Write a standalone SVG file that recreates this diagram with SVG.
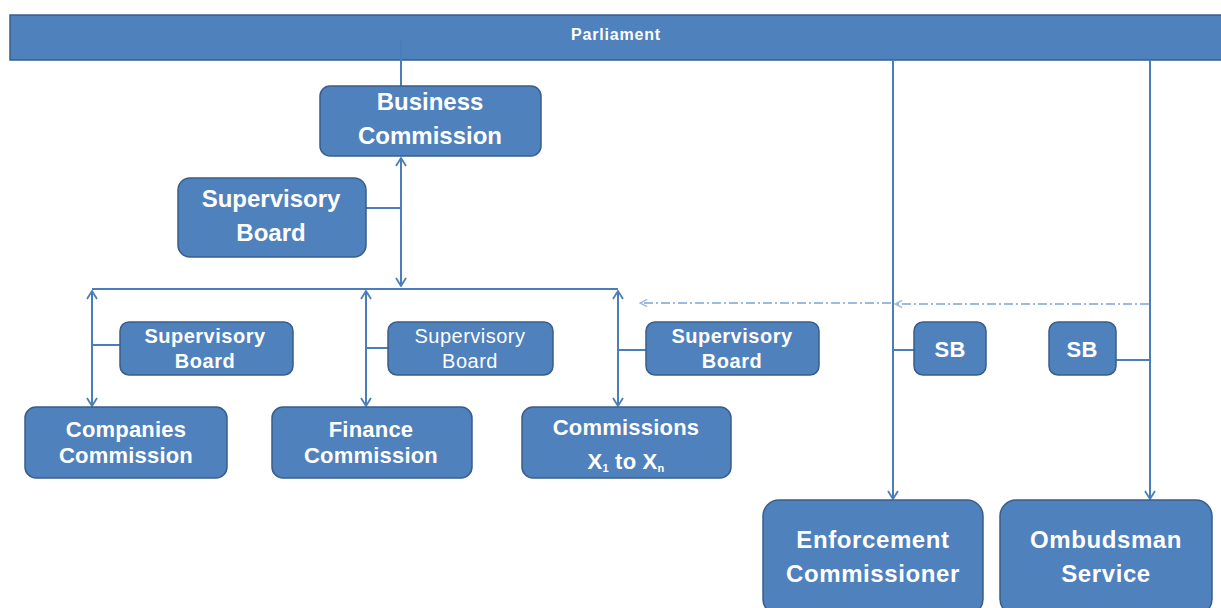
<svg xmlns="http://www.w3.org/2000/svg" width="1221" height="608" viewBox="0 0 1221 608">
<defs>
<style>
.box{fill:#4f81bd;stroke:#385d8a;stroke-width:1.5}
.t{font-family:"Liberation Sans",Arial,sans-serif;font-weight:bold;fill:#ffffff;text-anchor:middle}
.big{font-size:24px}
.med{font-size:22px;letter-spacing:0.2px}
.sm{font-size:20px;letter-spacing:0.5px}
.c{fill:none;stroke:#4a7ebb;stroke-width:2}
.d{fill:none;stroke:#9cb9e0;stroke-width:2;stroke-dasharray:9 3 2 3}
</style>
<marker id="ah" viewBox="0 0 10 12" refX="9" refY="6" markerWidth="10" markerHeight="12" markerUnits="userSpaceOnUse" orient="auto-start-reverse">
<path d="M1,1 L9,6 L1,11" fill="none" stroke="#4a7ebb" stroke-width="1.8"/>
</marker>
<marker id="ahd" viewBox="0 0 10 10" refX="9" refY="5" markerWidth="9" markerHeight="9" markerUnits="userSpaceOnUse" orient="auto">
<path d="M1,1 L9,5 L1,9" fill="none" stroke="#9cb9e0" stroke-width="1.6"/>
</marker>
</defs>
<rect width="1221" height="608" fill="#ffffff"/>

<g id="parliament">
<rect x="10" y="15" width="1215" height="45" fill="#4f81bd" stroke="#385d8a" stroke-width="1.5"/>
<text x="616" y="40" class="t" style="font-size:16px;letter-spacing:0.8px">Parliament</text>
</g>

<g id="connectors">
<line class="c" x1="401" y1="40" x2="401" y2="86"/>
<line class="c" x1="401" y1="158" x2="401" y2="286" marker-start="url(#ah)" marker-end="url(#ah)"/>
<line class="c" x1="366" y1="208" x2="401" y2="208"/>
<polyline class="c" points="92,289 618,289"/>
<line class="c" x1="92" y1="291" x2="92" y2="406" marker-start="url(#ah)" marker-end="url(#ah)"/>
<line class="c" x1="366" y1="291" x2="366" y2="406" marker-start="url(#ah)" marker-end="url(#ah)"/>
<line class="c" x1="618" y1="291" x2="618" y2="406" marker-start="url(#ah)" marker-end="url(#ah)"/>
<line class="c" x1="92" y1="345" x2="120" y2="345"/>
<line class="c" x1="366" y1="348" x2="388" y2="348"/>
<line class="c" x1="618" y1="350" x2="646" y2="350"/>
<line class="c" x1="893" y1="60" x2="893" y2="499" marker-end="url(#ah)"/>
<line class="c" x1="1150" y1="60" x2="1150" y2="499" marker-end="url(#ah)"/>
<line class="c" x1="893" y1="350" x2="914" y2="350"/>
<line class="c" x1="1116" y1="360" x2="1150" y2="360"/>
<line class="d" x1="1149" y1="304" x2="895" y2="304" marker-end="url(#ahd)"/>
<line class="d" x1="891" y1="303" x2="640" y2="303" marker-end="url(#ahd)"/>
</g>

<g id="business-commission">
<rect class="box" x="320" y="86" width="221" height="70" rx="10"/>
<text class="t big" x="430" y="110">Business</text>
<text class="t big" x="430" y="144">Commission</text>
</g>
<g id="supervisory-board-main">
<rect class="box" x="178" y="178" width="188" height="79" rx="12"/>
<text class="t big" x="271" y="207">Supervisory</text>
<text class="t big" x="271" y="241">Board</text>
</g>
<g id="sb-companies">
<rect class="box" x="120" y="322" width="173" height="53" rx="9"/>
<text class="t sm" x="205" y="343">Supervisory</text>
<text class="t sm" x="205" y="368">Board</text>
</g>
<g id="sb-finance">
<rect class="box" x="388" y="322" width="165" height="53" rx="9"/>
<text class="t sm" x="470" y="343" style="font-weight:normal">Supervisory</text>
<text class="t sm" x="470" y="368" style="font-weight:normal">Board</text>
</g>
<g id="sb-commissions">
<rect class="box" x="646" y="322" width="173" height="53" rx="9"/>
<text class="t sm" x="732" y="343">Supervisory</text>
<text class="t sm" x="732" y="368">Board</text>
</g>
<g id="companies-commission">
<rect class="box" x="25" y="407" width="202" height="71" rx="11"/>
<text class="t med" x="126" y="437">Companies</text>
<text class="t med" x="126" y="463">Commission</text>
</g>
<g id="finance-commission">
<rect class="box" x="272" y="407" width="200" height="71" rx="11"/>
<text class="t med" x="371" y="437">Finance</text>
<text class="t med" x="371" y="463">Commission</text>
</g>
<g id="commissions-x">
<rect class="box" x="522" y="407" width="209" height="71" rx="11"/>
<text class="t med" x="626" y="435">Commissions</text>
<text class="t med" x="626" y="469">X<tspan style="font-size:11px" dy="3">1</tspan><tspan dy="-3"> to X</tspan><tspan style="font-size:11px" dy="3">n</tspan></text>
</g>
<g id="sb-enforcement">
<rect class="box" x="914" y="322" width="72" height="53" rx="9"/>
<text class="t med" x="950" y="357">SB</text>
</g>
<g id="sb-ombudsman">
<rect class="box" x="1049" y="322" width="67" height="53" rx="9"/>
<text class="t med" x="1082" y="357">SB</text>
</g>
<g id="enforcement-commissioner">
<rect class="box" x="763" y="500" width="220" height="115" rx="16"/>
<text class="t big" x="873" y="548" style="letter-spacing:0.6px">Enforcement</text>
<text class="t big" x="873" y="582" style="letter-spacing:0.6px">Commissioner</text>
</g>
<g id="ombudsman-service">
<rect class="box" x="1000" y="500" width="212" height="115" rx="16"/>
<text class="t big" x="1106" y="548" style="letter-spacing:0.6px">Ombudsman</text>
<text class="t big" x="1106" y="582" style="letter-spacing:0.6px">Service</text>
</g>
</svg>
